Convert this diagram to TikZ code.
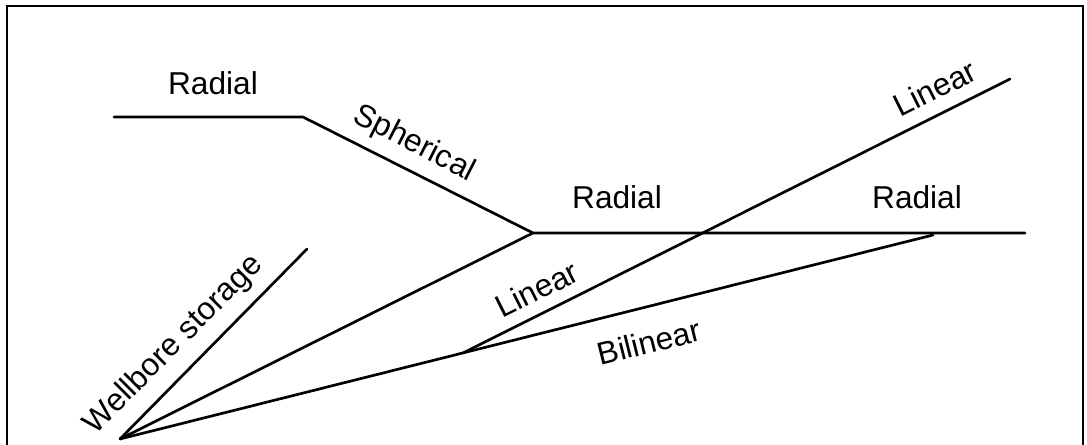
\documentclass[tikz,border=0pt]{standalone}
\usepackage{fontspec}
\setmainfont{Liberation Sans}
\begin{document}
\begin{tikzpicture}[
  regime/.style = {line width = 1.9pt, line cap = round, line join = miter},
  frameline/.style = {line width = 1.4pt},
  flowlabel/.style = {inner sep = 0pt, font = \fontsize{22.5}{26}\selectfont},
  x = 0.025cm,
  y = -0.025cm
]
  \useasboundingbox (0, 0) rectangle (1087, 445);
  \draw[frameline] (7, 460) -- (7, 6) -- (1083, 6) -- (1083, 460);

  \coordinate (origin) at (120, 439);
  \coordinate (wbend)  at (307, 249);
  \coordinate (radst)  at (114, 117);
  \coordinate (sphst)  at (303, 117);
  \coordinate (sphend) at (533, 233);
  \coordinate (radend) at (1025, 233);
  \coordinate (bilend) at (933, 235);
  \coordinate (linst)  at (463, 353);
  \coordinate (linend) at (1010, 79);

  \draw[regime] (radst) -- (sphst) -- (sphend) -- (radend);
  \draw[regime] (origin) -- (wbend);
  \draw[regime] (origin) -- (sphend);
  \draw[regime] (origin) -- (bilend);
  \draw[regime] (linst) -- (linend);

  \node[flowlabel]              (radtop) at (213, 83)  {Radial};
  \node[flowlabel, rotate=-27]  (sph)    at (414, 144) {Spherical};
  \node[flowlabel]              (radmid) at (617, 197) {Radial};
  \node[flowlabel]              (radrt)  at (917, 197) {Radial};
  \node[flowlabel, rotate=26.6] (lintop) at (935, 88)  {Linear};
  \node[flowlabel, rotate=26.6] (linmid) at (537, 289) {Linear};
  \node[flowlabel, rotate=14]   (bil)    at (649, 342) {Bilinear};
  \node[flowlabel, rotate=45]   (wbs)    at (174, 345) {Wellbore storage};
\end{tikzpicture}
\end{document}
